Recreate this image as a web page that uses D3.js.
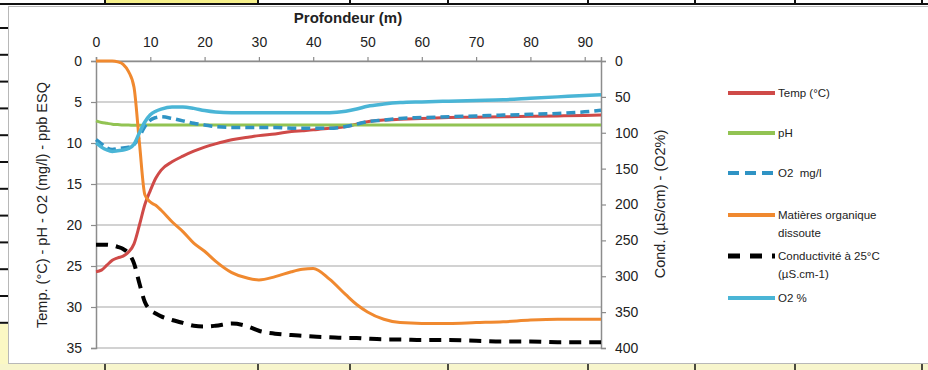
<!DOCTYPE html>
<html>
<head>
<meta charset="utf-8">
<script src="https://cdn.jsdelivr.net/npm/d3@7"></script>
<style>
  body { margin: 0; background: #fff; }
  text { font-family: "Liberation Sans", Arial, sans-serif; fill: #222; white-space: pre; }
</style>
</head>
<body>
<svg width="928" height="370"></svg>
<script>
// profondeur (m)
const depths = [0,1,2,3,4,5,6,7,8,9,10,11,12,14,16,18,20,22,25,28,30,33,36,38,40,43,46,48,50,53,56,60,65,70,75,80,85,90,93]

// left axis series
const temp = [25.7,25.5,24.9,24.3,24.0,23.8,23.3,22.3,20.0,17.5,15.8,14.3,13.3,12.3,11.6,11.0,10.5,10.1,9.6,9.3,9.1,8.9,8.6,8.5,8.4,8.2,8.0,7.7,7.4,7.2,7.1,7.0,6.9,6.85,6.8,6.75,6.7,6.65,6.6]
const ph = [7.3,7.5,7.6,7.7,7.75,7.8,7.8,7.85,7.85,7.8,7.8,7.8,7.8,7.8,7.8,7.8,7.8,7.8,7.8,7.8,7.8,7.8,7.8,7.8,7.8,7.8,7.8,7.8,7.8,7.8,7.8,7.8,7.8,7.8,7.8,7.8,7.8,7.8,7.8]
const o2mg = [9.6,10.1,10.6,10.8,10.7,10.6,10.5,10.2,9.2,8.0,7.2,6.9,6.8,7.0,7.3,7.6,7.8,8.0,8.1,8.1,8.1,8.1,8.2,8.2,8.2,8.2,8.0,7.7,7.4,7.2,7.0,6.9,6.8,6.7,6.6,6.5,6.4,6.2,6.0]
const matOrg = [0,0,0,0,0.1,0.4,1.3,3.2,10,16.3,17.2,17.6,18.2,19.6,20.8,22.2,23.2,24.4,25.8,26.5,26.7,26.3,25.7,25.4,25.3,26.6,28.5,29.7,30.6,31.5,31.9,32.0,32.0,31.9,31.8,31.6,31.5,31.5,31.5]

// right axis series
const cond = [256,256,256,257,259,262,268,282,310,336,347,352,356,361,365,369,370,369,366,370,376,380,382,383,384,385,386,386,387,388,388,389,389,390,391,391,392,392,392]
const o2pct = [114,120,124,126,125,124,122,116,100,85,75,70,67,64,64,66,69,71,72,72,72,72,72,72,72,72,70,67,63,60,58,57,56,55,54,52,50,48,47]

const xTicks = [0,10,20,30,40,50,60,70,80,90]
const leftTicks = [0,5,10,15,20,25,30,35]
const rightTicks = [0,50,100,150,200,250,300,350,400]

const series = [
  {name: ["Temp (°C)"], values: temp, axis: "l", color: "#cf4a48", width: 3, dash: null},
  {name: ["pH"], values: ph, axis: "l", color: "#92c353", width: 3, dash: null},
  {name: ["O2  mg/l"], values: o2mg, axis: "l", color: "#2f93c4", width: 3.5, dash: "9,5"},
  {name: ["Matières organique", "dissoute"], values: matOrg, axis: "l", color: "#f0892f", width: 3, dash: null},
  {name: ["Conductivité à 25°C", "(µS.cm-1)"], values: cond, axis: "r", color: "#000", width: 4, dash: "12,8"},
  {name: ["O2 %"], values: o2pct, axis: "r", color: "#4ab5d6", width: 3.5, dash: null}
]

let svg = d3.select("svg")

// spreadsheet behind the chart
svg.append("rect").attr("x", 0).attr("y", 0).attr("width", 928).attr("height", 370).attr("fill", "#fff")
svg.append("rect").attr("x", 105).attr("y", 0).attr("width", 153).attr("height", 4).attr("fill", "#f6f08a")
svg.append("rect").attr("x", 0).attr("y", 324).attr("width", 9).attr("height", 46).attr("fill", "#fbf8c4")
svg.append("rect").attr("x", 0).attr("y", 364).attr("width", 928).attr("height", 6).attr("fill", "#f7f5cc")
svg.append("line").attr("x1", 0).attr("x2", 928).attr("y1", 4).attr("y2", 4).attr("stroke", "#111").attr("stroke-width", 2)
let cols = [105, 258, 350, 448, 588, 695, 795, 922]
cols.forEach(c => {
  svg.append("line").attr("x1", c).attr("x2", c).attr("y1", 0).attr("y2", 5).attr("stroke", "#111").attr("stroke-width", 2)
  svg.append("line").attr("x1", c).attr("x2", c).attr("y1", 364).attr("y2", 370).attr("stroke", "#111").attr("stroke-width", 1.5)
})
d3.range(12).forEach(i => {
  let yy = 28 + i * 26.8
  svg.append("line").attr("x1", 0).attr("x2", 8).attr("y1", yy).attr("y2", yy).attr("stroke", "#111").attr("stroke-width", 2)
})

// chart box
svg.append("rect").attr("x", 8.5).attr("y", 6.5).attr("width", 925).attr("height", 357)
  .attr("fill", "#fff").attr("stroke", "#b8b8b8")

let x = d3.scaleLinear().domain([0, 93]).range([96, 601])
let yL = d3.scaleLinear().domain([0, 35]).range([61, 348])
let yR = d3.scaleLinear().domain([0, 400]).range([61, 348])

let g = svg.append("g")

// gridlines
g.selectAll(".grid")
  .data(leftTicks)
  .join("line")
  .attr("class", "grid")
  .attr("x1", x(0)).attr("x2", x(93))
  .attr("y1", d => yL(d)).attr("y2", d => yL(d))
  .attr("stroke", "#a6a6a6").attr("stroke-width", 1.2)

// axes
let topAxis = g.append("g").attr("transform", "translate(0," + yL(0) + ")")
  .call(d3.axisTop(x).tickValues(xTicks).tickSize(4).tickPadding(10))
let leftAxis = g.append("g").attr("transform", "translate(" + x(0) + ",0)")
  .call(d3.axisLeft(yL).tickValues(leftTicks).tickSize(5).tickPadding(9))
let rightAxis = g.append("g").attr("transform", "translate(" + x(93) + ",0)")
  .call(d3.axisRight(yR).tickValues(rightTicks).tickSize(5).tickPadding(9))

;[topAxis, leftAxis, rightAxis].forEach(a => {
  a.select(".domain").attr("stroke", "#8c8c8c").attr("stroke-width", 1.5)
  a.selectAll(".tick line").attr("stroke", "#8c8c8c").attr("stroke-width", 1.2)
  a.selectAll(".tick text").attr("font-size", "14px").attr("fill", "#222")
    .attr("font-family", '"Liberation Sans", Arial, sans-serif')
})

// titles
svg.append("text")
  .attr("x", 348).attr("y", 23)
  .attr("text-anchor", "middle")
  .attr("font-size", "15px").attr("font-weight", "bold")
  .text("Profondeur (m)")

svg.append("text")
  .attr("transform", "translate(47,205) rotate(-90)")
  .attr("text-anchor", "middle")
  .attr("font-size", "14.5px")
  .text("Temp. (°C) - pH - O2 (mg/l) - ppb ESQ")

svg.append("text")
  .attr("transform", "translate(665,204) rotate(-90)")
  .attr("text-anchor", "middle")
  .attr("font-size", "14.5px")
  .text("Cond. (µS/cm) - (O2%)")

// lines
series.forEach(s => {
  let yScale = s.axis == "l" ? yL : yR
  let line = d3.line()
    .x((d, i) => x(depths[i]))
    .y(d => yScale(d))
    .curve(d3.curveMonotoneX)
  g.append("path")
    .datum(s.values)
    .attr("fill", "none")
    .attr("stroke", s.color)
    .attr("stroke-width", s.width)
    .attr("stroke-dasharray", s.dash)
    .attr("stroke-linejoin", "round")
    .attr("d", line)
})

// legend
let legendY = [93, 133, 173, 215, 256, 298]
let legend = svg.append("g")
series.forEach((s, i) => {
  let ly = legendY[i]
  legend.append("line")
    .attr("x1", 728).attr("x2", 775)
    .attr("y1", ly).attr("y2", ly)
    .attr("stroke", s.color)
    .attr("stroke-width", s.axis == "r" && s.dash ? 5 : 4)
    .attr("stroke-dasharray", s.dash ? (s.color == "#000" ? "12,10" : "11,6") : null)
  s.name.forEach((t, j) => {
    legend.append("text")
      .attr("x", 778).attr("y", ly + 4 + j * 18)
      .attr("font-size", "11.5px")
      .text(t)
  })
})
</script>
</body>
</html>
